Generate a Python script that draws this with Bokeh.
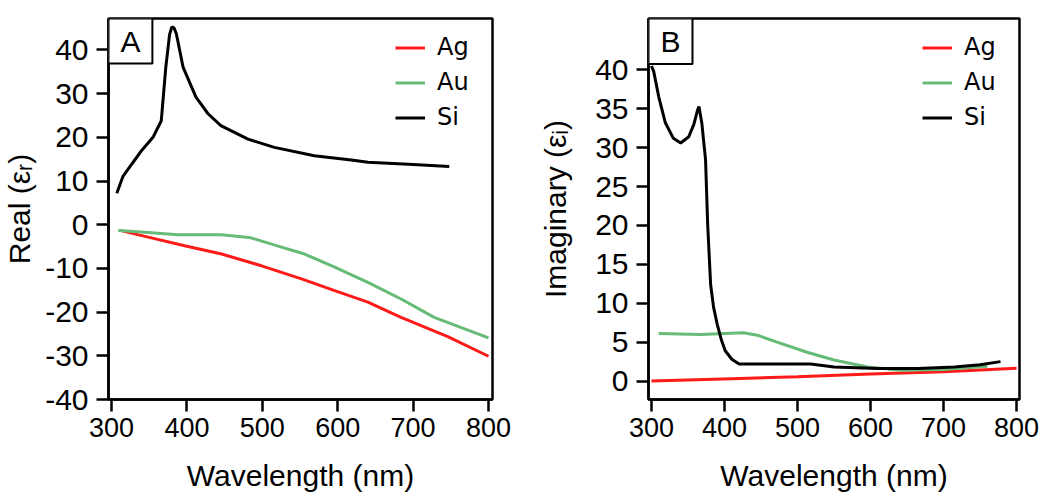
from bokeh.plotting import figure
from bokeh.layouts import row
from bokeh.models import FixedTicker, Range1d, Legend, LegendItem, BoxAnnotation, Label
from bokeh.embed import file_html
from bokeh.resources import INLINE

# ---------------- data ----------------
wl_ticks = [300, 400, 500, 600, 700, 800]
real_ticks = [-40, -30, -20, -10, 0, 10, 20, 30, 40]
real_tick_labels = ["-40", "-30", "-20", "-10", "0", "10", "20", "30", "40"]
imag_ticks = [0, 5, 10, 15, 20, 25, 30, 35, 40]
imag_tick_labels = ["0", "5", "10", "15", "20", "25", "30", "35", "40"]
series_names = ["Ag", "Au", "Si"]
series_colors = ["#ff1a1a", "#66bb77", "#000000"]

# Panel A: real part
a_ag_x = [311, 350, 397, 446, 499, 552, 596, 640, 684, 746, 800]
a_ag_y = [-1.3, -2.9, -4.8, -6.7, -9.4, -12.4, -15.1, -17.7, -21.2, -25.6, -30.1]
a_au_x = [309, 344, 388, 446, 485, 521, 556, 596, 640, 684, 728, 800]
a_au_y = [-1.3, -1.7, -2.3, -2.3, -3.0, -4.9, -6.7, -9.7, -13.2, -17.0, -21.2, -25.9]
a_si_x = [307, 315, 327, 340, 355, 366, 372, 377, 380, 383, 386, 395, 412, 428, 445, 481, 516, 569, 618, 640, 700, 748]
a_si_y = [7.2, 11.0, 13.9, 17.0, 20.0, 23.8, 36.0, 43.5, 45.3, 45.0, 43.7, 36.0, 29.2, 25.4, 22.7, 19.6, 17.7, 15.8, 14.8, 14.3, 13.8, 13.3]

# Panel B: imaginary part
b_ag_x = [300, 410, 500, 600, 700, 800]
b_ag_y = [0.0, 0.3, 0.55, 0.9, 1.2, 1.65]
b_au_x = [310, 367, 426, 445, 472, 513, 550, 596, 641, 700, 760]
b_au_y = [6.1, 6.0, 6.2, 5.9, 5.0, 3.7, 2.7, 1.8, 1.4, 1.5, 1.9]
b_si_x = [300, 303, 310, 319, 330, 340, 351, 358, 363, 365, 369, 374, 377, 381, 385, 390, 396, 401, 410, 420, 450, 500, 518, 550, 610, 665, 715, 750, 778]
b_si_y = [40.5, 39.8, 36.5, 33.2, 31.2, 30.6, 31.4, 33.0, 34.8, 35.3, 33.1, 28.5, 20.0, 12.4, 9.5, 7.3, 5.2, 3.9, 2.8, 2.2, 2.2, 2.2, 2.2, 1.8, 1.6, 1.6, 1.8, 2.1, 2.5]

TICK_FONT = "Liberation Sans"
LEG_FONT = "DejaVu Sans"


def make_panel(width, height, bl, br, bt, bb, xr, yr, yticks, ylabels, ylabel, ylabel_standoff,
               xs, ys, tag, tag_box_w, tag_box_h):
    p = figure(width=width, height=height, x_range=Range1d(*xr), y_range=Range1d(*yr),
               output_backend="svg", toolbar_location=None,
               min_border_left=bl, min_border_right=br, min_border_top=bt, min_border_bottom=bb)
    p.background_fill_color = "white"
    p.border_fill_color = "white"
    p.outline_line_color = "black"
    p.outline_line_width = 2.5
    p.outline_line_alpha = 1
    p.xgrid.visible = False
    p.ygrid.visible = False

    p.xaxis.ticker = FixedTicker(ticks=wl_ticks)
    p.yaxis.ticker = FixedTicker(ticks=yticks)
    p.yaxis.major_label_overrides = {t: s for t, s in zip(yticks, ylabels)}
    for ax in (p.xaxis, p.yaxis):
        ax.axis_line_width = 2.5
        ax.axis_line_color = "black"
        ax.major_tick_line_width = 2.5
        ax.major_tick_line_color = "black"
        ax.major_tick_in = 0
        ax.major_tick_out = 12
        ax.minor_tick_line_color = None
        ax.major_label_text_font = TICK_FONT
        ax.major_label_text_color = "black"
        ax.axis_label_text_font = TICK_FONT
        ax.axis_label_text_font_size = "30px"
        ax.axis_label_text_font_style = "normal"
        ax.axis_label_text_color = "black"
    p.xaxis.major_label_text_font_size = "27px"
    p.yaxis.major_label_text_font_size = "30px"
    p.xaxis.axis_label = "Wavelength (nm)"
    p.xaxis.major_label_standoff = 6
    p.xaxis.axis_label_standoff = 19
    p.yaxis.axis_label = ylabel
    p.yaxis.major_label_standoff = 8
    p.yaxis.axis_label_standoff = ylabel_standoff

    renderers = []
    for x, y, c in zip(xs, ys, series_colors):
        r = p.line(x, y, line_color=c, line_width=3)
        renderers.append(r)

    legend = Legend(items=[LegendItem(label=n, renderers=[r]) for n, r in zip(series_names, renderers)],
                    location="top_right")
    legend.border_line_color = None
    legend.background_fill_alpha = 0
    legend.glyph_width = 30
    legend.glyph_height = 27
    legend.label_height = 27
    legend.label_width = 40
    legend.spacing = 7
    legend.label_standoff = 12
    legend.padding = 4
    legend.margin = 15
    legend.label_text_font = LEG_FONT
    legend.label_text_font_size = "24px"
    legend.label_text_color = "black"
    p.add_layout(legend)

    # panel tag box in the top-left corner
    frame_w = width - bl - br
    frame_h = height - bt - bb
    sx = (xr[1] - xr[0]) / frame_w
    sy = (yr[1] - yr[0]) / frame_h
    box = BoxAnnotation(left=xr[0], right=xr[0] + tag_box_w * sx,
                        top=yr[1], bottom=yr[1] - tag_box_h * sy,
                        fill_color="white", fill_alpha=1,
                        line_color="black", line_alpha=1, line_width=2)
    p.add_layout(box)
    lab = Label(x=xr[0] + tag_box_w * sx / 2, y=yr[1] - tag_box_h * sy / 2, text=tag,
                text_align="center", text_baseline="middle",
                text_font=TICK_FONT, text_font_size="30px", text_color="black")
    p.add_layout(lab)
    return p


pa = make_panel(520, 499, 107, 28, 18, 100, (296, 805.3), (-40, 47.2), real_ticks, real_tick_labels,
                "Real (\u03b5\u1d63)", 6,
                [a_ag_x, a_au_x, a_si_x], [a_ag_y, a_au_y, a_si_y], "A", 44, 45)
pb = make_panel(530, 499, 128, 31, 17, 96, (295.9, 804), (-2.37, 46.6), imag_ticks, imag_tick_labels,
                "Imaginary (\u03b5\u1d62)", 20,
                [b_ag_x, b_au_x, b_si_x], [b_ag_y, b_au_y, b_si_y], "B", 44, 46)

layout = row(pa, pb)
open("out.html", "w").write(file_html(layout, INLINE))
